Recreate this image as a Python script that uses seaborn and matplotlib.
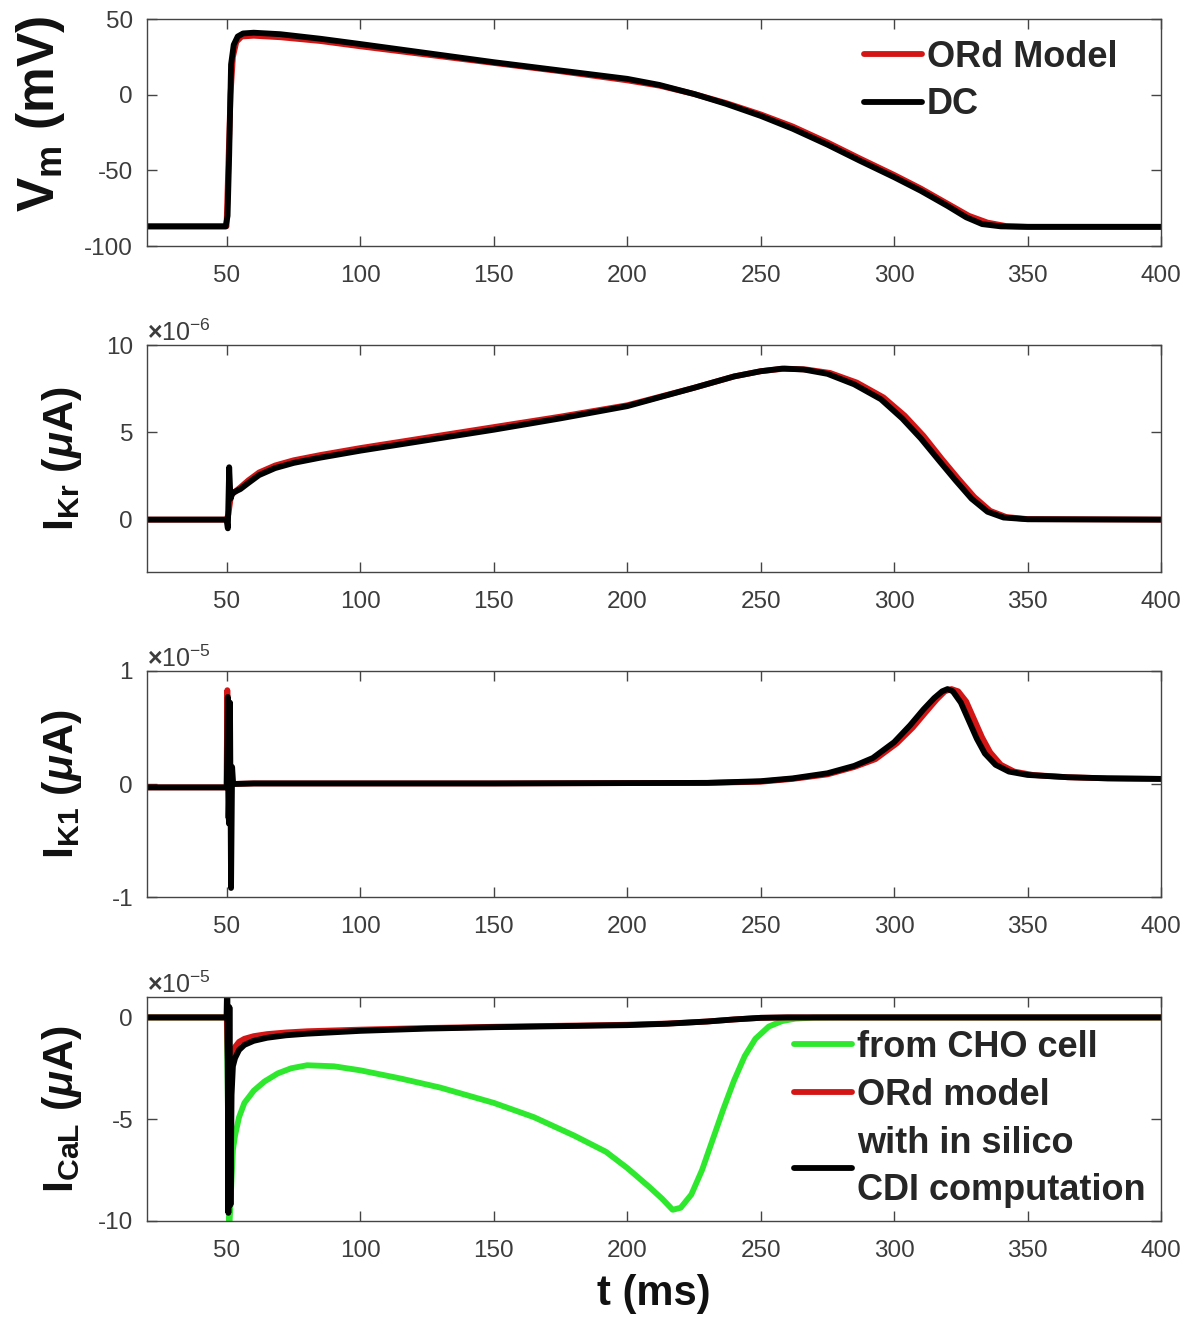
import numpy as np
import pandas as pd
import matplotlib
matplotlib.use("Agg")
import matplotlib.pyplot as plt
import seaborn as sns
from matplotlib.ticker import ScalarFormatter

# ---- data (currents in units of the axis multiplier) ----
# Vm (mV)
t_vm_ord = [20, 49.8, 50.6, 51.3, 52.2, 53.5, 55.5, 60, 70, 85, 100, 125, 150, 175, 200, 212, 225, 237,
            250, 262, 275, 287, 300, 310, 320, 328, 335, 342, 350, 400]
vm_ord = [-87, -87, -40, 0, 25, 35, 38.5, 39, 38, 35.5, 32, 26.5, 21, 15.5, 9.5, 6, 0.5, -5.5,
          -13, -21, -31.5, -42, -53, -62, -72, -80, -84.5, -86.8, -87.3, -87.3]
t_vm_dc = [20, 49.5, 50.2, 50.8, 51.5, 52.5, 54, 56, 60, 70, 85, 100, 125, 150, 175, 200, 212, 225, 237,
           250, 262, 275, 287, 300, 310, 320, 327, 333, 340, 350, 400]
vm_dc = [-87, -87, -80, -40, 20, 33, 38.5, 40.5, 41, 40, 37, 33.5, 27.5, 21.5, 16, 10.5, 6.5, 0.5, -6,
         -14, -22.5, -33, -43.5, -54.5, -63.5, -73.5, -81, -85.5, -87, -87.3, -87.3]

# IKr (x1e-6 uA)
t_kr_ord = [20, 49.8, 50.5, 51.5, 53, 55, 58, 62, 68, 75, 85, 100, 125, 150, 175, 200, 225, 240, 250, 259,
            267, 276, 286, 296, 304, 311, 318, 324, 330, 336, 342, 350, 400]
kr_ord = [0, 0, 0.3, 1.4, 1.6, 1.85, 2.25, 2.7, 3.1, 3.4, 3.7, 4.1, 4.7, 5.3, 5.9, 6.55, 7.55, 8.2, 8.5, 8.65,
          8.6, 8.4, 7.85, 7.0, 5.95, 4.8, 3.45, 2.35, 1.3, 0.5, 0.15, 0.03, 0]
t_kr_dc = [20, 49.8, 50.3, 50.8, 51.3, 52, 53, 55, 58, 62, 68, 75, 85, 100, 125, 150, 175, 200, 225, 240,
           250, 258, 266, 275, 285, 295, 303, 310, 317, 323, 329, 335, 341, 350, 400]
kr_dc = [0, 0, -0.5, 3.0, 1.2, 1.5, 1.6, 1.75, 2.1, 2.55, 2.95, 3.25, 3.55, 3.95, 4.55, 5.15, 5.8, 6.5, 7.55, 8.2,
         8.5, 8.65, 8.6, 8.35, 7.75, 6.9, 5.8, 4.65, 3.35, 2.25, 1.2, 0.45, 0.12, 0.02, 0]

# IK1 (x1e-5 uA)
t_k1_ord = [20, 49.8, 50.1, 50.5, 51.0, 51.5, 60, 150, 230, 250, 262, 275, 285, 293, 301, 307, 312, 316,
            319, 321.5, 324, 327, 330, 333, 336, 340, 345, 352, 365, 380, 400]
k1_ord = [-0.03, -0.03, 0.83, -0.3, 0.05, 0.0, 0.005, 0.005, 0.01, 0.02, 0.045, 0.085, 0.15, 0.22, 0.36, 0.5,
          0.64, 0.75, 0.82, 0.84, 0.82, 0.73, 0.57, 0.41, 0.28, 0.17, 0.11, 0.08, 0.06, 0.05, 0.045]
t_k1_dc = [20, 49.9, 50.3, 50.7, 51.1, 51.5, 51.9, 52.3, 60, 150, 230, 250, 262, 275, 285, 292, 300, 306,
           311, 315, 318, 320, 322, 325, 328, 331, 334, 338, 343, 350, 365, 380, 400]
k1_dc = [-0.03, -0.03, 0.77, -0.35, 0.72, -0.92, 0.15, 0.0, 0.005, 0.005, 0.01, 0.025, 0.05, 0.095, 0.16,
         0.23, 0.37, 0.52, 0.66, 0.76, 0.82, 0.84, 0.82, 0.72, 0.56, 0.4, 0.27, 0.17, 0.11, 0.08, 0.06, 0.05, 0.045]

# ICaL (x1e-5 uA)
t_cal_cho = [20, 49.9, 50.3, 50.8, 51.5, 52.2, 53, 54.5, 56.5, 60, 64, 69, 74, 80, 90, 100, 115, 130, 150,
             165, 180, 192, 200, 208, 213, 217, 220, 224, 228, 232, 236, 240, 244, 248, 253, 258, 263, 270,
             280, 400]
cal_cho = [0, 0, -4, -10.5, -8.5, -6.5, -5.8, -4.9, -4.2, -3.6, -3.15, -2.75, -2.5, -2.35, -2.4, -2.6, -3.0,
           -3.45, -4.2, -4.9, -5.8, -6.6, -7.4, -8.3, -8.9, -9.45, -9.35, -8.7, -7.5, -6.0, -4.5, -3.1, -1.9,
           -1.05, -0.45, -0.18, -0.06, -0.01, 0, 0]
t_cal_ord = [20, 49.9, 50.4, 51.0, 51.6, 52.3, 53, 54.5, 56.5, 60, 65, 72, 80, 100, 125, 150, 175, 200, 215,
             230, 240, 250, 260, 400]
cal_ord = [0, 0, -2.5, -1.5, -1.9, -1.7, -1.45, -1.2, -1.05, -0.92, -0.82, -0.74, -0.68, -0.6, -0.52, -0.46,
           -0.41, -0.36, -0.3, -0.2, -0.1, -0.02, 0, 0]
t_cal_dc = [20, 49.8, 50.1, 50.5, 50.9, 51.3, 51.7, 52.2, 53, 54.5, 56.5, 60, 65, 72, 80, 100, 125, 150, 175,
            200, 215, 230, 240, 250, 260, 400]
cal_dc = [0, 0, 2.0, -9.6, 0.5, -9.2, -3.8, -2.4, -2.0, -1.6, -1.35, -1.15, -1.0, -0.88, -0.8, -0.66, -0.55,
          -0.48, -0.43, -0.38, -0.31, -0.2, -0.1, -0.02, 0, 0]

sns.set_theme(style="ticks")
plt.rcParams["font.family"] = ["Liberation Sans", "DejaVu Sans"]
plt.rcParams["axes.unicode_minus"] = False
plt.rcParams["mathtext.fontset"] = "custom"
plt.rcParams["mathtext.rm"] = "Liberation Sans:bold"
plt.rcParams["mathtext.bf"] = "Liberation Sans:bold"
plt.rcParams["mathtext.it"] = "Liberation Sans:italic:bold"
plt.rcParams["mathtext.default"] = "rm"

RED = "#d41515"
GREEN = "#2ee82e"
GREY = "#3c3c3c"


class PlainSci(ScalarFormatter):
    # plain hyphen tick labels, x10^n shown as offset text like matlab
    def __call__(self, x, pos=None):
        return "%g" % round(x / 10 ** self.orderOfMagnitude, 6)


def long_df(parts):
    frames = []
    for name, t, v, scale in parts:
        frames.append(pd.DataFrame({"t": t, "v": np.asarray(v) * scale, "series": name}))
    return pd.concat(frames, ignore_index=True)


panels = [
    dict(df=long_df([("ORd Model", t_vm_ord, vm_ord, 1), ("DC", t_vm_dc, vm_dc, 1)]),
         colors={"ORd Model": RED, "DC": "black"}, order=["ORd Model", "DC"],
         ylim=(-100, 50), yticks=[-100, -50, 0, 50], ylabel=r"$V_m$ (mV)", ysize=37, exp=None),
    dict(df=long_df([("ORd", t_kr_ord, kr_ord, 1e-6), ("DC", t_kr_dc, kr_dc, 1e-6)]),
         colors={"ORd": RED, "DC": "black"}, order=["ORd", "DC"],
         ylim=(-3e-6, 10e-6), yticks=[0, 5e-6, 10e-6], ylabel=r"$I_{Kr}$ ($\mathit{\mu}$A)", ysize=31, exp=-6),
    dict(df=long_df([("ORd", t_k1_ord, k1_ord, 1e-5), ("DC", t_k1_dc, k1_dc, 1e-5)]),
         colors={"ORd": RED, "DC": "black"}, order=["ORd", "DC"],
         ylim=(-1e-5, 1e-5), yticks=[-1e-5, 0, 1e-5], ylabel=r"$I_{K1}$ ($\mathit{\mu}$A)", ysize=31, exp=-5),
    dict(df=long_df([("from CHO cell", t_cal_cho, cal_cho, 1e-5), ("ORd model", t_cal_ord, cal_ord, 1e-5),
                     ("with in silico\nCDI computation", t_cal_dc, cal_dc, 1e-5)]),
         colors={"from CHO cell": GREEN, "ORd model": RED, "with in silico\nCDI computation": "black"},
         order=["from CHO cell", "ORd model", "with in silico\nCDI computation"],
         ylim=(-10e-5, 1e-5), yticks=[-10e-5, -5e-5, 0], ylabel=r"$I_{CaL}$ ($\mathit{\mu}$A)", ysize=31, exp=-5),
]

boxes = [(0.1227, 0.8143, 0.8464, 0.1713),
         (0.1227, 0.5683, 0.8464, 0.1713),
         (0.1227, 0.3230, 0.8464, 0.1706),
         (0.1227, 0.0785, 0.8464, 0.1690)]

fig = plt.figure(figsize=(11.98, 13.25), dpi=100)
axes = []
for p, box in zip(panels, boxes):
    ax = fig.add_axes(box)
    sns.lineplot(data=p["df"], x="t", y="v", hue="series", hue_order=p["order"], palette=p["colors"],
                 estimator=None, sort=False, lw=4.2, legend=False, ax=ax)
    ax.set_xlim(20, 400)
    ax.set_xticks(range(50, 401, 50))
    ax.set_ylim(*p["ylim"])
    ax.set_yticks(p["yticks"])
    if p["exp"] is not None:
        fmt = PlainSci(useMathText=True)
        fmt.set_powerlimits((p["exp"], p["exp"]))
        ax.yaxis.set_major_formatter(fmt)
        ax.yaxis.get_offset_text().set_fontsize(18)
        ax.yaxis.get_offset_text().set_color("#555555")
    ax.tick_params(direction="in", top=True, right=True, length=7, width=1, colors="#444444",
                   labelcolor=GREY, labelsize=17.5)
    ax.tick_params(axis="x", pad=14)
    ax.tick_params(axis="y", pad=10)
    for s in ax.spines.values():
        s.set_color("#444444")
        s.set_linewidth(1.0)
    ax.set_xlabel("")
    ax.set_ylabel(p["ylabel"], fontsize=p["ysize"], fontweight="bold", color="#111111")
    axes.append(ax)

axes[0].yaxis.set_label_coords(-0.079, 0.58)
for ax in axes[1:]:
    ax.yaxis.set_label_coords(-0.062, 0.5)

axes[-1].set_xlabel("t (ms)", fontsize=30, fontweight="bold", color="#111111", labelpad=8)

leg1 = axes[0].legend(handles=axes[0].get_lines()[:2], labels=["ORd Model", "DC"], loc="upper left",
                      bbox_to_anchor=(0.707, 0.91), frameon=False, prop={"weight": "bold", "size": 26},
                      handlelength=1.6, handletextpad=0.15, labelspacing=0.35, borderpad=0, borderaxespad=0)

leg4 = axes[3].legend(handles=axes[3].get_lines()[:3], labels=panels[3]["order"], loc="upper left",
                      bbox_to_anchor=(0.638, 0.855), frameon=False, prop={"weight": "bold", "size": 26},
                      handlelength=1.6, handletextpad=0.15, labelspacing=0.37, borderpad=0, borderaxespad=0)
for t in leg4.get_texts():
    t.set_linespacing(1.45)

fig.savefig("out.png", dpi=100)
